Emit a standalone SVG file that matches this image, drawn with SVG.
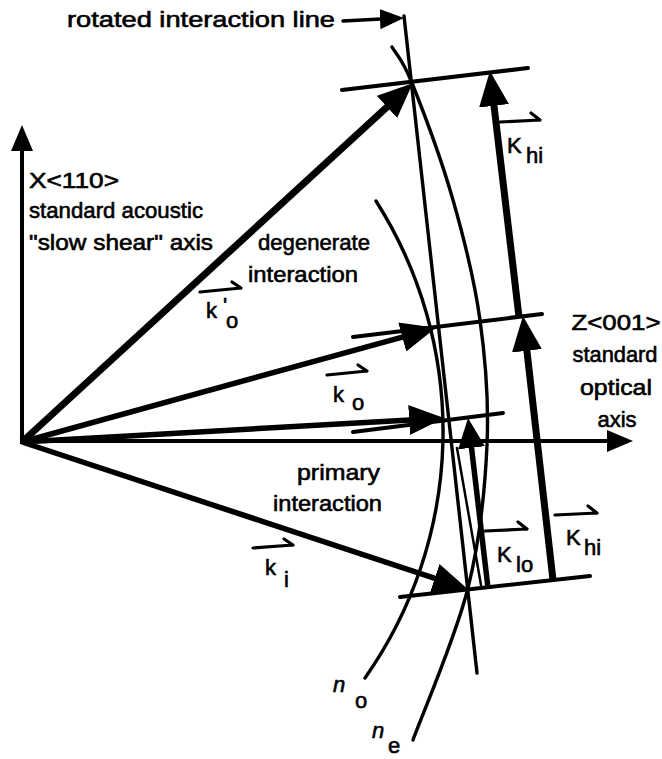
<svg xmlns="http://www.w3.org/2000/svg" width="662" height="759" viewBox="0 0 662 759">
<defs>
<style>
.t{font-family:"Liberation Sans",Arial,sans-serif;font-size:22px;fill:#000;stroke:#000;stroke-width:0.6px}
.it{font-style:italic}
.ln{fill:none;stroke:#000;stroke-linecap:round;stroke-linejoin:round}
.thin{stroke-width:3.4}
.cross{stroke-width:4}
.axis{fill:none;stroke:#000;stroke-width:4}
.vec{fill:none;stroke:#000;stroke-width:5.5}
.vecb{fill:none;stroke:#000;stroke-width:7}
.hp{fill:none;stroke:#000;stroke-width:3.2;stroke-linecap:round;stroke-linejoin:round}
</style>
<marker id="ahBig" markerUnits="userSpaceOnUse" viewBox="0 0 35 30" markerWidth="35" markerHeight="30" refX="1" refY="15" orient="auto"><path d="M0,0 L35,15 L0,30 Z" fill="#000"/></marker>
<marker id="ahAxis" markerUnits="userSpaceOnUse" viewBox="0 0 26 22" markerWidth="26" markerHeight="22" refX="1" refY="11" orient="auto"><path d="M0,0 L26,11 L0,22 Z" fill="#000"/></marker>
<marker id="ahLo" markerUnits="userSpaceOnUse" viewBox="0 0 30 27" markerWidth="30" markerHeight="27" refX="1" refY="13.5" orient="auto"><path d="M0,0 L30,13.5 L0,27 Z" fill="#000"/></marker>
<marker id="ahLbl" markerUnits="userSpaceOnUse" viewBox="0 0 24 20" markerWidth="24" markerHeight="20" refX="1" refY="10" orient="auto"><path d="M0,0 L24,10 L0,20 Z" fill="#000"/></marker>
</defs>
<rect x="0" y="0" width="662" height="759" fill="#fff"/>

<g id="curves">
<path id="n_o-curve" class="ln thin" d="M376,201 A429,429 0 0 1 365,678"/>
<path id="n_e-curve" class="ln thin" d="M392,47 C395.3,53 401.8,57.5 412,83 C422.2,108.5 441.7,160.5 453,200 C464.3,239.5 474.3,279.2 480,320 C485.7,360.8 489,400.3 487,445 C485,489.7 480.3,538.8 468,588 C455.7,637.2 422.2,714.7 413,740"/>
</g>

<g id="rotated-line">
<line class="ln thin" x1="404" y1="16" x2="477" y2="673"/>
</g>

<g id="cross-lines">
<line class="ln cross" x1="342" y1="90" x2="528" y2="68"/>
<line class="ln cross" x1="353" y1="337" x2="542" y2="314"/>
<line class="ln cross" x1="353" y1="432" x2="503" y2="413"/>
<line class="ln cross" x1="400" y1="597" x2="590" y2="576"/>
</g>

<g id="axes">
<line class="axis" x1="22" y1="444" x2="22" y2="150" marker-end="url(#ahAxis)"/>
<line class="axis" x1="20" y1="441" x2="608" y2="441" marker-end="url(#ahAxis)"/>
</g>

<g id="connectors">
<line id="k-o-prime" class="vecb" x1="22" y1="442" x2="387.7" y2="106.3" marker-end="url(#ahBig)"/>
<line id="k-o-upper" class="vec" x1="22" y1="442" x2="403.2" y2="336.8" marker-end="url(#ahBig)"/>
<line id="k-o-lower" class="vec" x1="22" y1="442" x2="410.1" y2="419.9" marker-end="url(#ahBig)"/>
<line id="k-i" class="vec" x1="22" y1="442" x2="435.7" y2="578.6" marker-end="url(#ahBig)"/>
<line id="K-hi-upper" class="vecb" x1="519" y1="317" x2="493.9" y2="104.8" marker-end="url(#ahBig)"/>
<line id="K-hi-lower" class="vecb" x1="553" y1="580" x2="526.8" y2="349.8" marker-end="url(#ahBig)"/>
<line id="K-lo" class="vec" x1="488" y1="588" x2="471.4" y2="446.8" marker-end="url(#ahLo)"/>
<line class="ln" stroke-width="2.5" x1="457" y1="448" x2="481" y2="585"/>
<line id="rot-label-arrow" class="ln" stroke-width="3.5" x1="343" y1="21" x2="381" y2="19.1" marker-end="url(#ahLbl)"/>
</g>

<g id="label-rotated">
<text class="t" x="67" y="27" textLength="268" lengthAdjust="spacingAndGlyphs">rotated interaction line</text>
</g>

<g id="label-x-axis">
<text class="t" x="29" y="188" textLength="90" lengthAdjust="spacingAndGlyphs">X&lt;110&gt;</text>
<text class="t" x="29" y="218" textLength="174" lengthAdjust="spacingAndGlyphs">standard acoustic</text>
<text class="t" x="29" y="250" textLength="184" lengthAdjust="spacingAndGlyphs">"slow shear" axis</text>
</g>

<g id="label-degenerate">
<text class="t" x="258" y="250" textLength="112" lengthAdjust="spacingAndGlyphs">degenerate</text>
<text class="t" x="248" y="282" textLength="110" lengthAdjust="spacingAndGlyphs">interaction</text>
</g>

<g id="label-primary">
<text class="t" x="297" y="480" textLength="83" lengthAdjust="spacingAndGlyphs">primary</text>
<text class="t" x="273" y="511" textLength="109" lengthAdjust="spacingAndGlyphs">interaction</text>
</g>

<g id="label-z-axis">
<text class="t" x="616" y="330" text-anchor="middle" textLength="89" lengthAdjust="spacingAndGlyphs">Z&lt;001&gt;</text>
<text class="t" x="615" y="362" text-anchor="middle" textLength="85" lengthAdjust="spacingAndGlyphs">standard</text>
<text class="t" x="616" y="395" text-anchor="middle" textLength="72" lengthAdjust="spacingAndGlyphs">optical</text>
<text class="t" x="617" y="427" text-anchor="middle">axis</text>
</g>

<g id="label-k-o-prime">
<path class="hp" d="M200,292 L241,288 M241,288 L232,282"/>
<text class="t" x="206" y="318">k</text>
<text class="t" x="223" y="313">'</text>
<text class="t" x="226" y="328">o</text>
</g>

<g id="label-k-o">
<path class="hp" d="M327,375 L367,371 M367,371 L358,365"/>
<text class="t" x="333" y="402">k</text>
<text class="t" x="352" y="410">o</text>
</g>

<g id="label-k-i">
<path class="hp" d="M253,548 L293,545 M293,545 L284,539"/>
<text class="t" x="265" y="575">k</text>
<text class="t" x="284" y="587">i</text>
</g>

<g id="label-K-hi-top">
<path class="hp" d="M500,122 L540,120 M540,120 L531,113"/>
<text class="t" x="507" y="153">K</text>
<text class="t" x="526" y="163">hi</text>
</g>

<g id="label-K-lo">
<path class="hp" d="M485,531 L527,529 M527,529 L518,522"/>
<text class="t" x="497" y="562">K</text>
<text class="t" x="516" y="572">lo</text>
</g>

<g id="label-K-hi-bottom">
<path class="hp" d="M555,515 L597,513 M597,513 L588,506"/>
<text class="t" x="566" y="545">K</text>
<text class="t" x="584" y="555">hi</text>
</g>

<g id="label-n-o">
<text class="t it" x="333" y="692">n</text>
<text class="t" x="355" y="708">o</text>
</g>

<g id="label-n-e">
<text class="t it" x="372" y="738">n</text>
<text class="t" x="388" y="753">e</text>
</g>
</svg>
